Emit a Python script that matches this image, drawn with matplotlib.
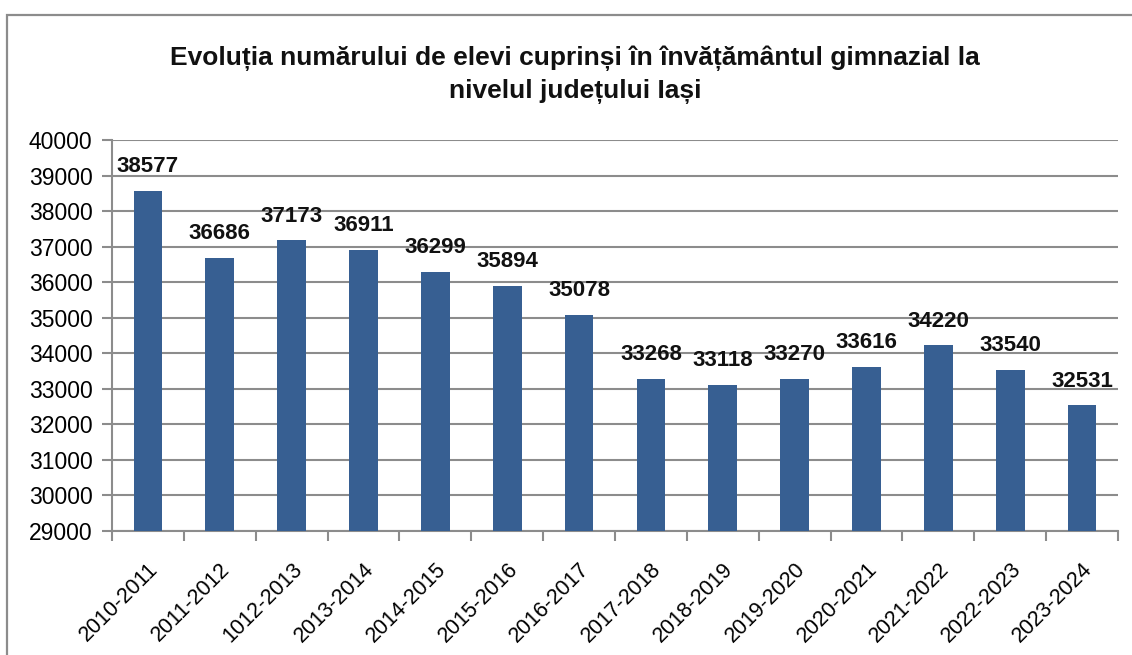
import matplotlib
matplotlib.use("Agg")
import matplotlib.pyplot as plt
from matplotlib.patches import Rectangle

# school years and number of pupils
years = ["2010-2011", "2011-2012", "1012-2013", "2013-2014", "2014-2015",
         "2015-2016", "2016-2017", "2017-2018", "2018-2019", "2019-2020",
         "2020-2021", "2021-2022", "2022-2023", "2023-2024"]
pupils = [38577, 36686, 37173, 36911, 36299, 35894, 35078,
          33268, 33118, 33270, 33616, 34220, 33540, 32531]
y_ticks = list(range(29000, 40001, 1000))

title = ("Evoluția numărului de elevi cuprinși în învățământul gimnazial la\n"
         "nivelul județului Iași")

plt.rcParams['font.family'] = ['Liberation Sans', 'DejaVu Sans']

fig = plt.figure(figsize=(11.32, 6.55), dpi=100)
ax = fig.add_axes([0.0989, 0.1893, 0.8887, 0.597])

# outer chart frame
fig.patches.append(Rectangle((7 / 1132, -0.1), 1.2, 1 - 15 / 655 + 0.1,
                             transform=fig.transFigure, fill=False,
                             edgecolor="#8c8c8c", linewidth=1.6))

x = list(range(len(years)))
ax.bar(x, [v - 29000 for v in pupils], bottom=29000, width=0.4,
       color="#375f92", zorder=3)

for xi, v in zip(x, pupils):
    ax.annotate(str(v), (xi, v), xytext=(0, 10), textcoords="offset points",
                ha="center", va="bottom", fontsize=16, fontweight="bold",
                color="#111111", zorder=4)

ax.set_xlim(-0.5, len(years) - 0.5)
ax.set_ylim(29000, 40000)
ax.set_yticks(y_ticks)
ax.set_yticklabels([str(t) for t in y_ticks], fontsize=16.5)
ax.yaxis.grid(True, color="#8c8c8c", linewidth=1.5, zorder=0)

ax.set_xticks([i - 0.5 for i in range(len(years) + 1)], minor=False)
ax.set_xticklabels([])
ax.set_xticks(x, minor=True)
ax.set_xticklabels(years, minor=True, rotation=45, ha="right",
                   rotation_mode="anchor", fontsize=15.5)
ax.tick_params(axis="x", which="minor", length=0, pad=20)
ax.tick_params(axis="x", which="major", length=7, width=1.5, color="#8c8c8c")
ax.tick_params(axis="y", length=7, width=1.5, color="#8c8c8c", pad=7)

for side in ["top", "right"]:
    ax.spines[side].set_visible(False)
for side in ["left", "bottom"]:
    ax.spines[side].set_color("#8c8c8c")
    ax.spines[side].set_linewidth(1.5)

fig.text(0.508, 0.93, title, ha="center", va="top", fontsize=19,
         fontweight="bold", linespacing=1.4, color="#111111")

fig.savefig("out.png", dpi=100)
